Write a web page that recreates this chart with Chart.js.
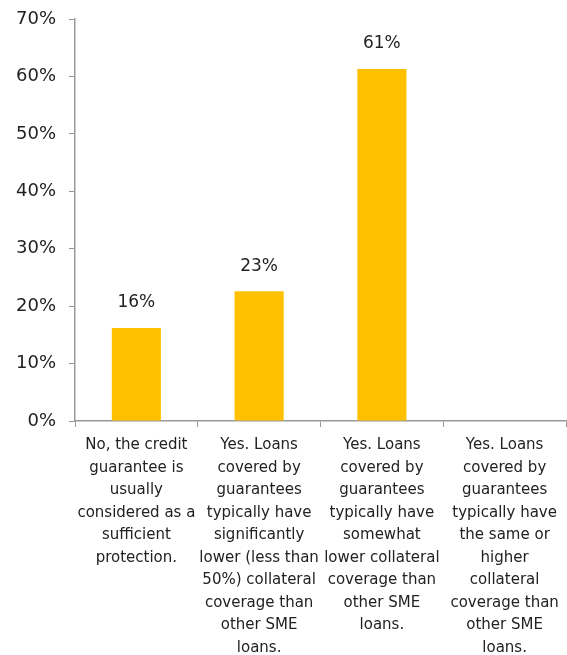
<!DOCTYPE html>
<html>
<head>
<meta charset="utf-8">
<script src="https://cdn.jsdelivr.net/npm/chart.js@4"></script>
<style>
  html, body { margin: 0; padding: 0; background: #fff; }
  #wrap { width: 567px; height: 655px; }
</style>
</head>
<body>
<div id="wrap"><canvas id="mycanvas" width="567" height="655"></canvas></div>
<script>
var categories = [
  ["No, the credit", "guarantee is", "usually", "considered as a", "sufficient", "protection."],
  ["Yes. Loans", "covered by", "guarantees", "typically have", "significantly", "lower (less than", "50%) collateral", "coverage than", "other SME", "loans."],
  ["Yes. Loans", "covered by", "guarantees", "typically have", "somewhat", "lower collateral", "coverage than", "other SME", "loans."],
  ["Yes. Loans", "covered by", "guarantees", "typically have", "the same or", "higher", "collateral", "coverage than", "other SME", "loans."]
];
var shares = [16.2, 22.6, 61.3, 0];
var yTicks = [0, 10, 20, 30, 40, 50, 60, 70];

var fontFamily = "'DejaVu Sans', sans-serif";

// draws the % value above each bar
var valueLabels = {
  id: 'valueLabels',
  afterDatasetsDraw: function(chart) {
    var ctx = chart.ctx;
    var meta = chart.getDatasetMeta(0);
    ctx.save();
    ctx.font = "17px " + fontFamily;
    ctx.fillStyle = "#222";
    ctx.textAlign = "center";
    ctx.textBaseline = "middle";
    meta.data.forEach(function(bar, i) {
      var v = chart.data.datasets[0].data[i];
      if (!v) return;
      ctx.fillText(Math.round(v) + "%", bar.x, bar.y - 25);
    });
    ctx.restore();
  }
};

var ctx = document.getElementById("mycanvas");
var barGraph = new Chart(ctx, {
  type: 'bar',
  data: {
    labels: categories,
    datasets: [{
      data: shares,
      backgroundColor: '#FFC000',
      barPercentage: 0.4,
      categoryPercentage: 1.0
    }]
  },
  options: {
    responsive: false,
    animation: false,
    layout: { padding: { top: 19, right: 1, left: 0, bottom: 0 } },
    plugins: {
      legend: { display: false },
      tooltip: { enabled: false }
    },
    scales: {
      x: {
        grid: { display: true, drawOnChartArea: false, offset: true, tickLength: 6, color: '#999' },
        border: { color: '#999', width: 1.5 },
        ticks: {
          autoSkip: false, maxRotation: 0, minRotation: 0,
          color: '#222', padding: 7,
          font: { family: fontFamily, size: 15, lineHeight: 1.5 }
        },
        afterFit: function(scale) { scale.height = 234; }
      },
      y: {
        min: 0, max: 70,
        afterBuildTicks: function(scale) {
          scale.ticks = yTicks.map(function(v) { return { value: v }; });
        },
        grid: { display: true, drawOnChartArea: false, tickLength: 6, color: '#999' },
        border: { color: '#999', width: 1.5 },
        ticks: {
          color: '#222', padding: 13,
          font: { family: fontFamily, size: 18 },
          callback: function(v) { return v + "%"; }
        },
        afterFit: function(scale) {
          scale.width = 75;
          scale.paddingTop = 0;
          scale.paddingBottom = 0;
        }
      }
    }
  },
  plugins: [valueLabels]
});
</script>
</body>
</html>
